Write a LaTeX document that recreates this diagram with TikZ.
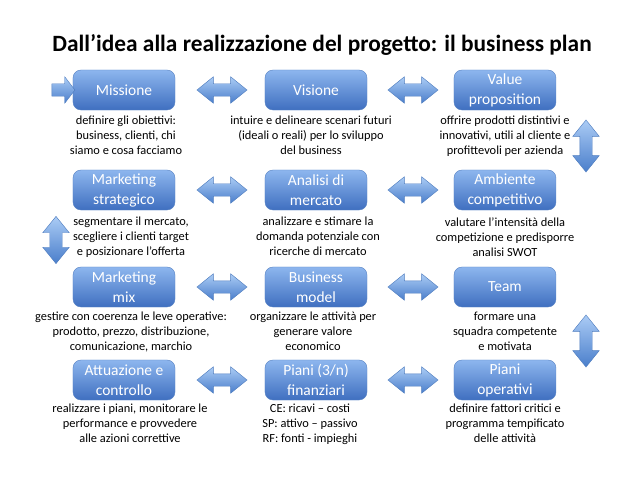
\documentclass[tikz,border=0pt]{standalone}
\usepackage{fontspec}
\setmainfont{Carlito}
\usetikzlibrary{shapes.arrows}
\definecolor{boxtop}{HTML}{8DB6EE}
\definecolor{boxbot}{HTML}{3F6FC0}
\definecolor{boxedge}{HTML}{5A84C4}
\definecolor{arrtop}{HTML}{ABCCF5}
\definecolor{arrbot}{HTML}{4A7ECB}
\definecolor{arredge}{HTML}{4F7DBF}
\tikzset{stage/.style={draw=boxedge, line width=0.3pt, rounded corners=0.2cm,
   top color=boxtop, bottom color=boxbot, text=white, align=center,
   minimum width=2.55cm, minimum height=1cm, inner sep=1pt,
   font=\fontsize{11}{14.2}\selectfont},
 note/.style={align=center, anchor=north, inner sep=0pt,
   font=\fontsize{8.8}{10.7}\selectfont},
 harrow/.style={double arrow, draw=arredge, line width=0.3pt,
   top color=arrtop, bottom color=arrbot, minimum height=1.25cm,
   inner xsep=0pt, inner ysep=0.15cm, double arrow head extend=0.175cm,
   double arrow tip angle=78},
 varrow/.style={harrow, rotate=90, minimum height=1.3cm},
 }

\begin{document}
\begin{tikzpicture}[x=0.025cm, y=-0.025cm]
        \useasboundingbox (0,0) rectangle (638,479);
        \node[font=\fontsize{16.6}{20}\bfseries] (title) at (322,45)
            {Dall’idea alla realizzazione del progetto: il business plan};

        % riga 1
        \node[stage] (missione) at (124,90) {Missione};
        \node[stage] (visione) at (316,90) {Visione};
        \node[stage] (value) at (505,90) {Value\\proposition};
        % riga 2
        \node[stage] (mktstrat) at (124,190) {Marketing\\strategico};
        \node[stage] (analisi) at (316,190) {Analisi di\\mercato};
        \node[stage] (ambiente) at (505,190) {Ambiente\\competitivo};
        % riga 3
        \node[stage] (mktmix) at (124,287) {Marketing\\mix};
        \node[stage] (bmodel) at (316,287) {Business\\model};
        \node[stage] (team) at (505,287) {Team};
        % riga 4
        \node[stage] (attuazione) at (124,380) {Attuazione e\\controllo};
        \node[stage] (pianifin) at (316,380) {Piani (3/n)\\finanziari};
        \node[stage] (pianiop) at (505,380) {Piani\\operativi};

        % descrizioni
        \node[note] (nmissione) at (126,116) {definire gli obiettivi:\\business, clienti, chi\\siamo e cosa facciamo};
        \node[note] (nvisione) at (311,116) {intuire e delineare scenari futuri\\(ideali o reali) per lo sviluppo\\del business};
        \node[note] (nvalue) at (505,116) {offrire prodotti distintivi e\\innovativi, utili al cliente e\\profittevoli per azienda};
        \node[note] (nmktstrat) at (131,217) {segmentare il mercato,\\scegliere i clienti target\\e posizionare l’offerta};
        \node[note] (nanalisi) at (318,217) {analizzare e stimare la\\domanda potenziale con\\ricerche di mercato};
        \node[note] (nambiente) at (505,217) {valutare l’intensità della\\competizione e predisporre\\analisi SWOT};
        \node[note] (nmktmix) at (131,312) {gestire con coerenza le leve operative:\\prodotto, prezzo, distribuzione,\\comunicazione, marchio};
        \node[note] (nbmodel) at (313,312) {organizzare le attività per\\generare valore\\economico};
        \node[note] (nteam) at (505,312) {formare una\\squadra competente\\e motivata};
        \node[note] (nattuazione) at (130,404) {realizzare i piani, monitorare le\\performance e provvedere\\alle azioni correttive};
        \node[note] (npianifin) at (310,404) {CE: ricavi – costi\\SP: attivo – passivo\\RF: fonti - impieghi};
        \node[note] (npianiop) at (505,404) {definire fattori critici e\\programma tempificato\\delle attività};

        % frecce
        \node[single arrow, draw=arredge, line width=0.3pt, top color=arrtop,
            bottom color=arrbot, minimum height=0.575cm, inner xsep=0pt,
            inner ysep=0.15cm, single arrow head extend=0.175cm,
            single arrow tip angle=105] (start) at (61,90) {};
        \foreach \y [count=\r] in {90,190,287,380} {
            \node[harrow] (ha\r) at (222,\y) {};
            \node[harrow] (hb\r) at (413,\y) {};
        }
        \node[varrow] (v1) at (586,146) {};
        \node[varrow, minimum height=1.18cm] (v2) at (56,240) {};
        \node[varrow] (v3) at (586,341) {};
    \end{tikzpicture}
\end{document}
